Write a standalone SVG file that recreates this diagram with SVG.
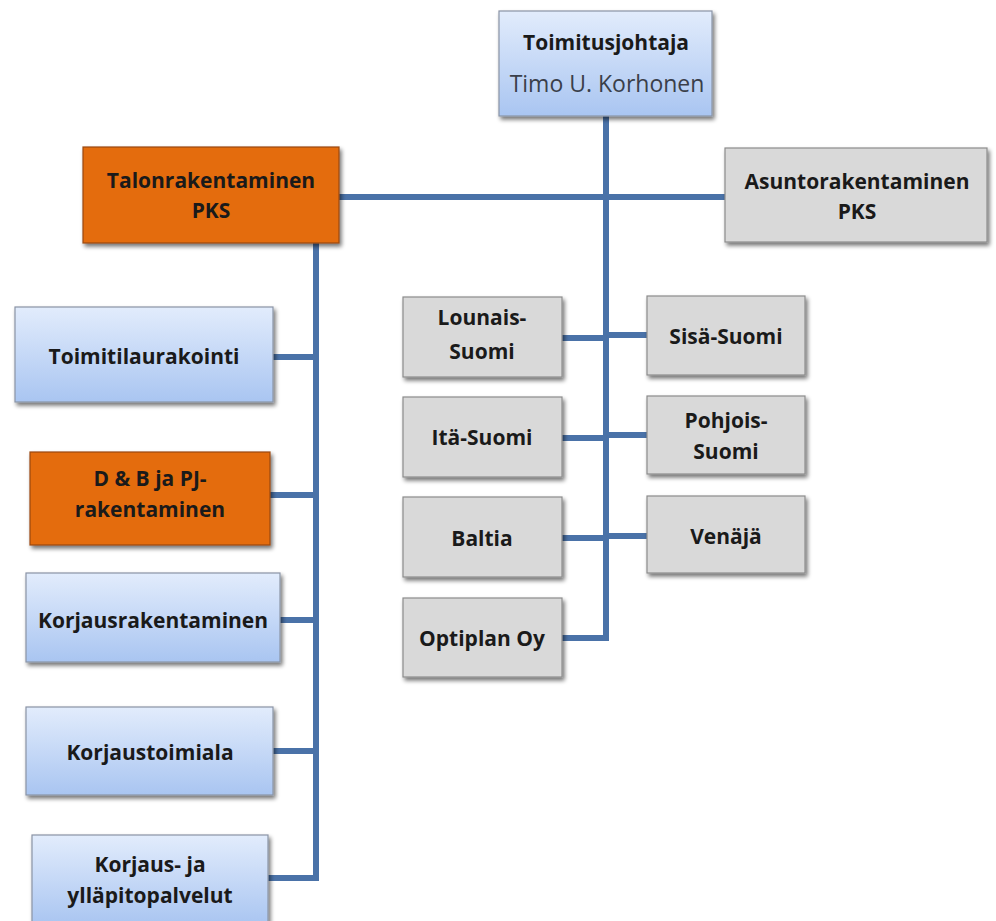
<svg xmlns="http://www.w3.org/2000/svg" width="996" height="921" viewBox="0 0 996 921">
  <defs>
    <linearGradient id="blueFill" x1="0" y1="0" x2="0" y2="1">
      <stop offset="0" stop-color="#e2ecfc"/>
      <stop offset="1" stop-color="#a9c5f1"/>
    </linearGradient>
    <filter id="shadow" x="-10%" y="-10%" width="130%" height="140%">
      <feGaussianBlur in="SourceAlpha" stdDeviation="2"/>
      <feOffset dx="2" dy="3" result="b"/>
      <feComponentTransfer><feFuncA type="linear" slope="0.55"/></feComponentTransfer>
      <feMerge><feMergeNode/><feMergeNode in="SourceGraphic"/></feMerge>
    </filter>
  </defs>
  <style>
    .blue { fill: url(#blueFill); stroke: #8a94a6; stroke-width: 1.2; filter: url(#shadow); }
    .orange { fill: #e46c0a; stroke: #9a4a10; stroke-width: 1.2; filter: url(#shadow); }
    .gray { fill: #d9d9d9; stroke: #8c8c8c; stroke-width: 1.2; filter: url(#shadow); }
    text { font-family: "Open Sans", "Noto Sans", "Liberation Sans", sans-serif; font-size: 21px; font-weight: 700; fill: #1a1a1a; text-anchor: middle; }
    .light { font-weight: 400; fill: #3a3f4a; font-size: 23px; }
    .conn { fill: none; stroke: #4a72a8; stroke-width: 6; stroke-linejoin: miter; stroke-linecap: butt; }
  </style>

  <rect width="996" height="921" fill="#ffffff"/>

  <!-- connectors -->
  <g id="connectors">
    <!-- CEO trunk down to Optiplan -->
    <path class="conn" d="M606 116 V638 H562"/>
    <!-- PKS branch across -->
    <path class="conn" d="M339 197 H725"/>
    <!-- Talonrakentaminen trunk -->
    <path class="conn" d="M316 243 V878 H268"/>
    <path class="conn" d="M273 357 H316"/>
    <path class="conn" d="M270 495 H316"/>
    <path class="conn" d="M280 620 H316"/>
    <path class="conn" d="M273 751 H316"/>
    <!-- regional units -->
    <path class="conn" d="M562 338 H606"/>
    <path class="conn" d="M606 335 H647"/>
    <path class="conn" d="M562 438 H606"/>
    <path class="conn" d="M606 435 H647"/>
    <path class="conn" d="M562 538 H606"/>
    <path class="conn" d="M606 536 H647"/>
  </g>

  <g id="toimitusjohtaja">
    <rect class="blue" x="499" y="11" width="213" height="105"/>
    <text x="606" y="50">Toimitusjohtaja</text>
    <text class="light" x="607" y="92">Timo U. Korhonen</text>
  </g>

  <g id="talonrakentaminen">
    <rect class="orange" x="83" y="147" width="256" height="96"/>
    <text x="211" y="188">Talonrakentaminen</text>
    <text x="211" y="218">PKS</text>
  </g>

  <g id="asuntorakentaminen">
    <rect class="gray" x="725" y="148" width="262" height="94"/>
    <text x="857" y="189">Asuntorakentaminen</text>
    <text x="857" y="219">PKS</text>
  </g>

  <g id="toimitilaurakointi">
    <rect class="blue" x="15" y="307" width="258" height="95"/>
    <text x="144" y="364">Toimitilaurakointi</text>
  </g>

  <g id="db-pj">
    <rect class="orange" x="30" y="452" width="240" height="93"/>
    <text x="150" y="486">D &amp; B ja PJ-</text>
    <text x="150" y="517">rakentaminen</text>
  </g>

  <g id="korjausrakentaminen">
    <rect class="blue" x="26" y="573" width="254" height="89"/>
    <text x="153" y="628">Korjausrakentaminen</text>
  </g>

  <g id="korjaustoimiala">
    <rect class="blue" x="26" y="707" width="247" height="88"/>
    <text x="150" y="760">Korjaustoimiala</text>
  </g>

  <g id="korjaus-yllapito">
    <rect class="blue" x="32" y="835" width="236" height="90"/>
    <text x="150" y="872">Korjaus- ja</text>
    <text x="150" y="903">ylläpitopalvelut</text>
  </g>

  <g id="lounais-suomi">
    <rect class="gray" x="403" y="297" width="159" height="80"/>
    <text x="482" y="325">Lounais-</text>
    <text x="482" y="359">Suomi</text>
  </g>

  <g id="sisa-suomi">
    <rect class="gray" x="647" y="296" width="158" height="79"/>
    <text x="726" y="344">Sisä-Suomi</text>
  </g>

  <g id="ita-suomi">
    <rect class="gray" x="403" y="397" width="159" height="80"/>
    <text x="482" y="445">Itä-Suomi</text>
  </g>

  <g id="pohjois-suomi">
    <rect class="gray" x="647" y="396" width="158" height="78"/>
    <text x="726" y="428">Pohjois-</text>
    <text x="726" y="459">Suomi</text>
  </g>

  <g id="baltia">
    <rect class="gray" x="403" y="497" width="159" height="80"/>
    <text x="482" y="546">Baltia</text>
  </g>

  <g id="venaja">
    <rect class="gray" x="647" y="496" width="158" height="77"/>
    <text x="726" y="544">Venäjä</text>
  </g>

  <g id="optiplan">
    <rect class="gray" x="403" y="598" width="159" height="79"/>
    <text x="482" y="646">Optiplan Oy</text>
  </g>
</svg>
